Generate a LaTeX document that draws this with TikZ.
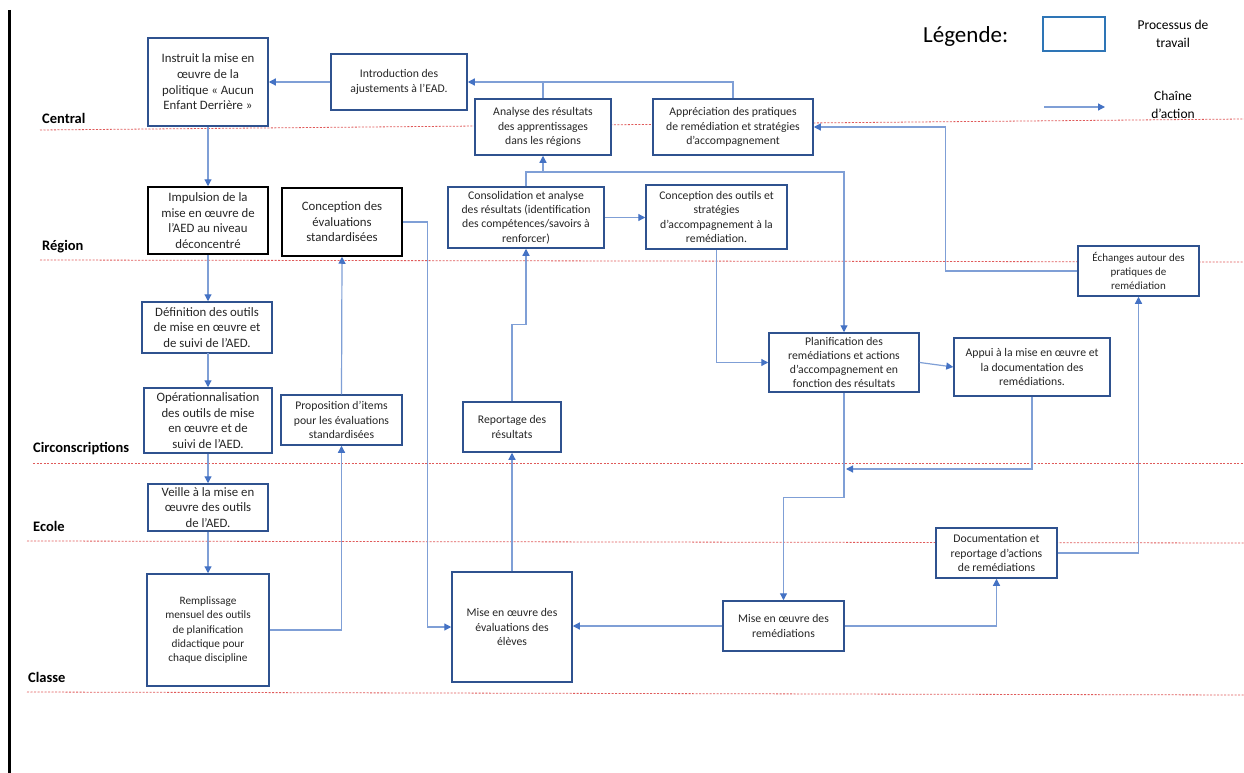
\documentclass[tikz,border=0pt]{standalone}
\usepackage{fontspec}
\setmainfont{Carlito}
\usetikzlibrary{arrows.meta,calc}
\definecolor{boxc}{HTML}{2F528F}
\definecolor{linec}{HTML}{7F9FD6}
\definecolor{arrc}{HTML}{4472C4}
\definecolor{txtc}{HTML}{262626}
\definecolor{lanec}{HTML}{E05A5A}
\definecolor{legc}{HTML}{2E75B6}
\tikzset{
  box/.style={draw=boxc, line width=1.5pt, fill=white, align=center, inner sep=2pt, text=txtc},
  boxblack/.style={box, draw=black},
  fbig/.style={font=\fontsize{12.8}{15.6}\selectfont},
  fsmall/.style={font=\fontsize{11.7}{14.2}\selectfont},
  arr/.style={draw=linec, line width=1.2pt, -{Triangle[width=7pt,length=7pt,color=arrc]}},
  plain/.style={draw=linec, line width=1.2pt},
  lane/.style={draw=lanec, line width=0.8pt, dash pattern=on 2pt off 1.5pt},
  lanelbl/.style={anchor=west, font=\bfseries\fontsize{14.5}{16}\selectfont, text=black, inner sep=0pt},
}
\begin{document}
\begin{tikzpicture}[x=1pt,y=-1pt]
\useasboundingbox[fill=white] (0,0) rectangle (1244,773);
% left bar
\draw[line width=3pt] (9,10) -- (9,773);
% lanes
\draw[lane] (40,130) -- (1244,119);
\draw[lane] (40,260) -- (1244,262);
\draw[lane] (33,463) -- (1244,463);
\draw[lane] (27,541) -- (1244,543);
\draw[lane] (27,692) -- (1244,695);
\node[lanelbl] (lcentral) at (42,118) {Central};
\node[lanelbl] (lregion) at (42,247) {Région};
\node[lanelbl] (lcirc) at (33,449) {Circonscriptions};
\node[lanelbl] (lecole) at (33,526) {Ecole};
\node[lanelbl] (lclasse) at (28,677) {Classe};
% legend
\node[anchor=west, inner sep=0pt, font=\fontsize{23}{26}\selectfont, text=black] (legende) at (923,36) {Légende:};
\node[draw=legc, line width=1.2pt, minimum width=62pt, minimum height=34pt, inner sep=0pt] (legbox) at (1074,34) {};
\node[align=center, font=\fontsize{13.5}{18}\selectfont, text=black] (legproc) at (1173,34) {Processus de\\travail};
\coordinate (la1) at (1044,107);
\coordinate (la2) at (1105,107);
\draw[arr] (la1) -- (la2);
\node[align=center, font=\fontsize{13.5}{18}\selectfont, text=black] (legchain) at (1173,105) {Chaîne\\d’action};
% boxes
\node[box, fbig, minimum width=120pt, minimum height=88pt] (instruit) at (208,82) {Instruit la mise en\\œuvre de la\\politique « Aucun\\Enfant Derrière »};
\node[box, fsmall, minimum width=136pt, minimum height=56pt] (intro) at (399,82) {Introduction des\\ajustements à l’EAD.};
\node[box, fsmall, minimum width=136pt, minimum height=56pt] (analyse) at (543,127) {Analyse des résultats\\des apprentissages\\dans les régions};
\node[box, fsmall, minimum width=160pt, minimum height=56pt] (apprec) at (733,127) {Appréciation des pratiques\\de remédiation et stratégies\\d’accompagnement};
\node[box, fsmall, minimum width=156pt, minimum height=61pt] (consol) at (526,217.5) {Consolidation et analyse\\des résultats (identification\\des compétences/savoirs à\\renforcer)};
\node[box, fsmall, minimum width=141pt, minimum height=64pt] (concout) at (716.5,217) {Conception des outils et\\stratégies\\d’accompagnement à la\\remédiation.};
\node[boxblack, fbig, minimum width=120pt, minimum height=67pt] (impulsion) at (208,220.5) {Impulsion de la\\mise en œuvre de\\l’AED au niveau\\déconcentré};
\node[boxblack, fbig, minimum width=120pt, minimum height=68pt] (conceval) at (342,222) {Conception des\\évaluations\\standardisées};
\node[box, font=\fontsize{11}{14.2}\selectfont, minimum width=121pt, minimum height=50pt] (echanges) at (1138.5,271) {Échanges autour des\\pratiques de\\remédiation};
\node[box, fbig, minimum width=130pt, minimum height=51pt] (definition) at (207,327.5) {Définition des outils\\de mise en œuvre et\\de suivi de l’AED.};
\node[box, fbig, minimum width=128pt, minimum height=65pt] (operation) at (208,420.5) {Opérationnalisation\\des outils de mise\\en œuvre et de\\suivi de l’AED.};
\node[box, fsmall, minimum width=121pt, minimum height=50pt] (proposition) at (341.5,420) {Proposition d’items\\pour les évaluations\\standardisées};
\node[box, fbig, minimum width=120pt, minimum height=47pt] (veille) at (208,507.5) {Veille à la mise en\\œuvre des outils\\de l’AED.};
\node[box, fsmall, minimum width=98pt, minimum height=50pt] (reportage) at (512,427) {Reportage des\\résultats};
\node[box, fsmall, minimum width=150pt, minimum height=59pt] (planif) at (844,362.5) {Planification des\\remédiations et actions\\d’accompagnement en\\fonction des résultats};
\node[box, fsmall, minimum width=156pt, minimum height=58pt] (appui) at (1032,367) {Appui à la mise en œuvre et\\la documentation des\\remédiations.};
\node[box, fsmall, minimum width=121pt, minimum height=50pt] (documentation) at (996.5,553) {Documentation et\\reportage d’actions\\de remédiations};
\node[box, font=\fontsize{11.3}{14.2}\selectfont, minimum width=122pt, minimum height=112pt] (remplissage) at (208,630) {Remplissage\\mensuel des outils\\de planification\\didactique pour\\chaque discipline};
\node[box, fsmall, minimum width=120pt, minimum height=110pt] (miseeval) at (512,627) {Mise en œuvre des\\évaluations des\\élèves};
\node[box, fsmall, minimum width=121pt, minimum height=50pt] (miserem) at (783.5,626) {Mise en œuvre des\\remédiations};
% connectors
\draw[arr] (instruit.south) -- (impulsion.north);
\draw[arr] (impulsion.south) -- (impulsion.south |- definition.north);
\draw[arr] (definition.south) -- (definition.south -| operation.north) -- (operation.north);
\draw[arr] (operation.south) -- (veille.north);
\draw[arr] (veille.south) -- (remplissage.north);
\draw[arr] (intro.west) -- (instruit.east);
\draw[arr] (analyse.north) |- (intro.east);
\draw[plain] (apprec.north) |- (analyse.north |- intro.east);
\coordinate (jc) at (543,172);
\draw[arr] (consol.north) |- (jc) -- (analyse.south);
\draw[arr] (jc) -| (planif.north);
\draw[arr] (consol.east) -- (consol.east -| concout.west);
\draw[arr] (reportage.north) -- ++(0,-77) -| (consol.south);
\draw[arr] (conceval.east) -- ++(25,0) |- (miseeval.west);
\draw[arr] (remplissage.east) -| (proposition.south);
\draw[arr] (proposition.north) -- (conceval.south);
\draw[arr] (miseeval.north) -- (reportage.south);
\draw[arr] (concout.south) |- (planif.west);
\draw[arr] (planif.east) -- (appui.west);
\draw[arr] (planif.south) -- ++(0,105) -| (miserem.north);
\coordinate (ap) at (846,469);
\draw[arr] (appui.south) |- (ap);
\draw[arr] (miserem.west) -- (miserem.west -| miseeval.east);
\draw[arr] (miserem.east) -| (documentation.south);
\draw[arr] (documentation.east) -| (echanges.south);
\draw[arr] (echanges.west) -- ++(-132,0) |- (apprec.east);
\end{tikzpicture}
\end{document}
